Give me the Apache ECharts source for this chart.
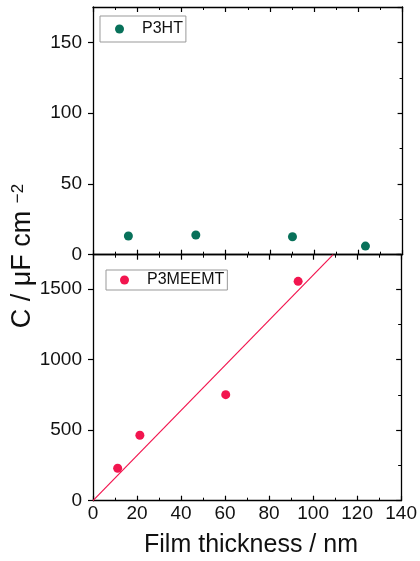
<!DOCTYPE html>
<html>
<head>
<meta charset="utf-8">
<script src="https://cdn.jsdelivr.net/npm/echarts@6/dist/echarts.min.js"></script>
<style>
  html, body { margin: 0; padding: 0; background: #fff; }
  #chart { width: 420px; height: 561px; }
</style>
</head>
<body>
<div id="chart"></div>
<script>
// Capacitance vs. film thickness for two polythiophenes
const thickP3HT = [16, 46.5, 90.2, 123.2];
const capP3HT = [13.2, 13.9, 12.7, 6.1];

const thickP3MEEMT = [11.2, 21.3, 60.3, 93.2];
const capP3MEEMT = [230, 464, 752, 1556];

// linear fit through the origin for P3MEEMT
const fitThick = [0, 109.1];
const fitCap = [0, 1745];

// axis tick values
const xTicks = [0, 20, 40, 60, 80, 100, 120, 140];
const yTicksTop = [0, 50, 100, 150];
const yTicksBottom = [0, 500, 1000, 1500];
const yMaxTop = 175;
const yMaxBottom = 1745;

const FONT = 'Liberation Sans, Arial, Helvetica, sans-serif';
const GREEN = '#08715a';
const PINK = '#f2154f';

const zip = (xs, ys) => xs.map((x, i) => [x, ys[i]]);
const plain = v => String(v);

const line = { show: true, onZero: false, lineStyle: { color: '#000', width: 1.3 } };
const xBase = {
  type: 'value', min: xTicks[0], max: xTicks[xTicks.length - 1],
  interval: xTicks[1] - xTicks[0],
  axisLine: line, splitLine: { show: false },
  axisTick: { show: true, inside: true, length: 5, lineStyle: { color: '#000', width: 1.2 } },
  minorTick: { show: true, splitNumber: 2, length: 3, lineStyle: { color: '#000', width: 1 } },
  axisLabel: { show: false }
};
function yAxisPair(gridIndex, ticks, max) {
  const interval = ticks[1] - ticks[0];
  return [
    {
      type: 'value', gridIndex, position: 'left', min: ticks[0], max, interval,
      axisLine: line, splitLine: { show: false },
      axisTick: { show: true, inside: false, length: 5, lineStyle: { color: '#000', width: 1.2 } },
      axisLabel: { show: true, margin: 11, fontSize: 19, color: '#111', fontFamily: FONT,
                   showMaxLabel: false, formatter: plain }
    },
    {
      type: 'value', gridIndex, position: 'right', min: ticks[0], max, interval,
      axisLine: line, splitLine: { show: false },
      axisTick: { show: true, inside: true, length: 5, lineStyle: { color: '#000', width: 1.2 } },
      minorTick: { show: true, splitNumber: 2, length: 3, lineStyle: { color: '#000', width: 1 } },
      axisLabel: { show: false }
    }
  ];
}

const legendBase = {
  orient: 'horizontal', icon: 'circle', itemWidth: 9, itemHeight: 9,
  borderColor: '#999', borderWidth: 1, borderRadius: 0,
  textStyle: { fontSize: 16, color: '#111', fontFamily: FONT, padding: [0, 0, 0, 13] }
};

const option = {
  animation: false,
  backgroundColor: '#fff',
  grid: [
    { left: 93, right: 17.4, top: 7, height: 247.7 },
    { left: 93, right: 17.4, top: 254.7, height: 246 }
  ],
  xAxis: [
    Object.assign({}, xBase, { gridIndex: 0, position: 'bottom' }),
    Object.assign({}, xBase, { gridIndex: 0, position: 'top' }),
    Object.assign({}, xBase, { gridIndex: 1, position: 'top' }),
    Object.assign({}, xBase, {
      gridIndex: 1, position: 'bottom',
      axisLabel: { show: true, margin: 4, fontSize: 19, color: '#111', fontFamily: FONT, formatter: plain }
    })
  ],
  yAxis: [
    ...yAxisPair(0, yTicksTop, yMaxTop),
    ...yAxisPair(1, yTicksBottom, yMaxBottom)
  ],
  legend: [
    Object.assign({}, legendBase, { data: ['P3HT'], left: 100, top: 16, padding: [5, 3, 5, 15] }),
    Object.assign({}, legendBase, { data: ['P3MEEMT'], left: 106, top: 270, padding: [2, 3, 2, 14] })
  ],
  series: [
    {
      name: 'P3HT', type: 'scatter', xAxisIndex: 0, yAxisIndex: 0,
      symbol: 'circle', symbolSize: 9, itemStyle: { color: GREEN, opacity: 1 },
      data: zip(thickP3HT, capP3HT)
    },
    {
      name: 'P3MEEMT fit', type: 'line', xAxisIndex: 3, yAxisIndex: 2,
      showSymbol: false, symbol: 'none', lineStyle: { color: PINK, width: 1.2 },
      data: zip(fitThick, fitCap), z: 1
    },
    {
      name: 'P3MEEMT', type: 'scatter', xAxisIndex: 3, yAxisIndex: 2,
      symbol: 'circle', symbolSize: 9, itemStyle: { color: PINK, opacity: 1 },
      data: zip(thickP3MEEMT, capP3MEEMT), z: 3
    }
  ],
  graphic: [
    {
      type: 'text', x: 23, y: 256, rotation: Math.PI / 2,
      style: {
        text: '{n|C / μF cm }{s|−2}',
        align: 'center', verticalAlign: 'middle',
        rich: {
          n: { fontSize: 27, fontFamily: FONT, fill: '#111', verticalAlign: 'bottom' },
          s: { fontSize: 17, fontFamily: FONT, fill: '#111', verticalAlign: 'top' }
        }
      }
    },
    {
      type: 'text', x: 251, y: 545,
      style: {
        text: 'Film thickness / nm', fontSize: 25, fontFamily: FONT, fill: '#111',
        align: 'center', verticalAlign: 'middle'
      }
    }
  ]
};

const chart = echarts.init(document.getElementById('chart'), null, { renderer: 'canvas' });
chart.setOption(option);
</script>
</body>
</html>
